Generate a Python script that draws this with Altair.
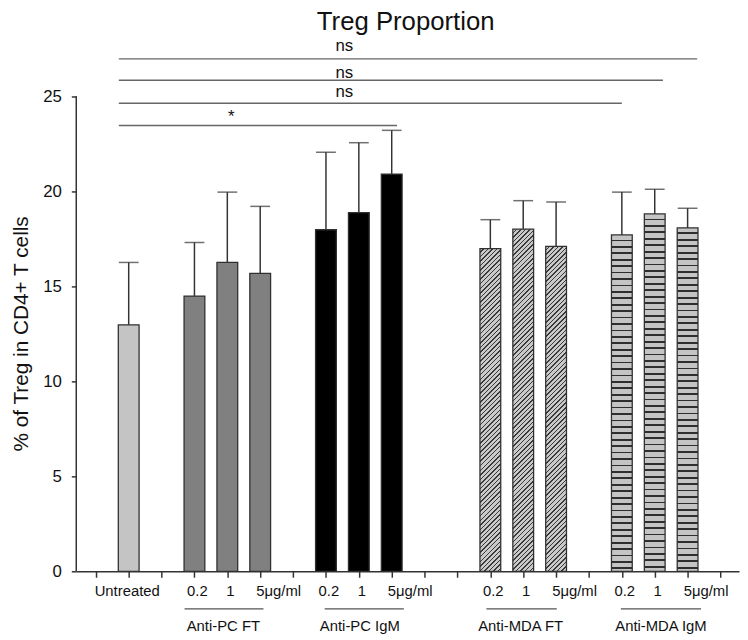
import altair as alt
import pandas as pd

# ---------------- data ----------------
groups = ["Untreated",
          "Anti-PC FT", "Anti-PC FT", "Anti-PC FT",
          "Anti-PC IgM", "Anti-PC IgM", "Anti-PC IgM",
          "Anti-MDA FT", "Anti-MDA FT", "Anti-MDA FT",
          "Anti-MDA IgM", "Anti-MDA IgM", "Anti-MDA IgM"]
doses = ["Untreated", "0.2", "1", "5μg/ml", "0.2", "1", "5μg/ml",
         "0.2", "1", "5μg/ml", "0.2", "1", "5μg/ml"]
slots = [1, 3, 4, 5, 7, 8, 9, 12, 13, 14, 16, 17, 18]
means = [12.97, 14.48, 16.25, 15.68, 17.97, 18.87, 20.90,
         16.98, 18.00, 17.10, 17.70, 18.80, 18.07]
err_tops = [16.25, 17.30, 19.95, 19.20, 22.05, 22.55, 23.20,
            18.50, 19.50, 19.43, 19.95, 20.10, 19.10]

group_names = ["Anti-PC FT", "Anti-PC IgM", "Anti-MDA FT", "Anti-MDA IgM"]
group_centers = [3.88, 8.03, 12.92, 17.19]
group_line_start = [2.70, 6.96, 11.88, 15.97]
group_line_end = [5.10, 9.37, 14.02, 18.41]

sig_labels = ["ns", "ns", "ns", "*"]
sig_start = [0.70, 0.70, 0.70, 0.70]
sig_end = [18.29, 17.25, 16.00, 9.16]
sig_line_y = [26.96, 25.83, 24.63, 23.45]
sig_text_y = [27.38, 25.97, 24.93, 23.63]
sig_text_x = [7.56, 7.56, 7.56, 4.12]

y_ticks = [0, 5, 10, 15, 20, 25]
x_slots = list(range(20))

# ---------------- layout constants ----------------
FONT = "Liberation Sans"
W, H = 670, 538
YMAX = 28
X0 = -0.4446
X1 = X0 + W / 33.74
BAR_W = 21
PX_PER_Y = H / YMAX

bars = pd.DataFrame({"group": groups, "dose": doses, "slot": slots,
                     "mean": means, "top": err_tops})
grp = pd.DataFrame({"name": group_names, "center": group_centers,
                    "start": group_line_start, "end": group_line_end})
sig = pd.DataFrame({"label": sig_labels, "start": sig_start, "end": sig_end,
                    "ly": sig_line_y, "ty": sig_text_y, "tx": sig_text_x})

xscale = alt.Scale(domain=[X0, X1], nice=False, zero=False)
yscale = alt.Scale(domain=[0, YMAX], nice=False)
xaxis = alt.Axis(values=x_slots, labels=False, tickSize=6, tickWidth=1.5,
                 tickColor="#333333", domainColor="#333333", domainWidth=1.5,
                 grid=False, title=None)
yaxis = alt.Axis(values=y_ticks, domain=False, tickSize=5, tickWidth=1.5,
                 tickColor="#333333", labelFont=FONT, labelFontSize=17,
                 labelColor="#111111", labelPadding=10, grid=False, title=None)


def X(field):
    return alt.X(field, type="quantitative", scale=xscale, axis=xaxis)


def Y(field):
    return alt.Y(field, type="quantitative", scale=yscale, axis=yaxis)


def diag_gradient(h_px, w=BAR_W, p=4.6, light="#c9c9c9", dark="#3a3a3a", frac=0.32):
    L = w + h_px
    n = int(L / p) + 1
    stops = []
    for k in range(n):
        a = min(k * p / L, 1.0)
        b = min((k * p + p * (1 - frac)) / L, 1.0)
        c = min((k + 1) * p / L, 1.0)
        stops += [alt.GradientStop(color=light, offset=a),
                  alt.GradientStop(color=light, offset=b),
                  alt.GradientStop(color=dark, offset=b),
                  alt.GradientStop(color=dark, offset=c)]
    s = L / (w * w + h_px * h_px)
    return alt.LinearGradient(gradient="linear", stops=stops,
                              x1=0, y1=0, x2=s * w, y2=s * h_px)


def horiz_gradient(h_px, p=6.5, light="#c4c4c4", dark="#2e2e2e", frac=0.28):
    n = int(h_px / p) + 1
    stops = []
    for k in range(n):
        a = min(k * p / h_px, 1.0)
        b = min((k * p + p * (1 - frac)) / h_px, 1.0)
        c = min((k + 1) * p / h_px, 1.0)
        stops += [alt.GradientStop(color=light, offset=a),
                  alt.GradientStop(color=light, offset=b),
                  alt.GradientStop(color=dark, offset=b),
                  alt.GradientStop(color=dark, offset=c)]
    return alt.LinearGradient(gradient="linear", stops=stops,
                              x1=0, y1=0, x2=0, y2=1)


base = alt.Chart(bars)

solid_colors = alt.Scale(domain=["Untreated", "Anti-PC FT", "Anti-PC IgM"],
                         range=["#c4c4c4", "#808080", "#000000"])
solid = base.transform_filter(
    alt.FieldOneOfPredicate(field="group", oneOf=["Untreated", "Anti-PC FT", "Anti-PC IgM"])
).mark_bar(size=BAR_W, stroke="#303030", strokeWidth=1.3).encode(
    x=X("slot"), y=Y("mean"),
    fill=alt.Fill("group:N", scale=solid_colors, legend=None))

layers = [solid]
for g, s, m in zip(groups, slots, means):
    if g == "Anti-MDA FT":
        grad = diag_gradient(m * PX_PER_Y)
    elif g == "Anti-MDA IgM":
        grad = horiz_gradient(m * PX_PER_Y)
    else:
        continue
    layers.append(
        base.transform_filter(alt.datum.slot == s)
        .mark_bar(size=BAR_W, stroke="#303030", strokeWidth=1.3, fill=grad)
        .encode(x=X("slot"), y=Y("mean")))

err_rule = base.mark_rule(color="#333333", strokeWidth=1.5).encode(
    x=X("slot"), y=Y("mean"), y2="top")
err_cap = base.mark_tick(orient="horizontal", size=20, thickness=1.5,
                         color="#333333").encode(x=X("slot"), y=Y("top"))

y_line = alt.Chart(pd.DataFrame({"a": [0], "b": [y_ticks[-1]]})).mark_rule(
    color="#333333", strokeWidth=1.5).encode(
    x=alt.value(0), y=Y("a"), y2="b")

dose_untr = base.transform_filter(alt.datum.dose == "Untreated").mark_text(
    font=FONT, fontSize=15, color="#111111", align="center", baseline="alphabetic",
    dx=-1.5).encode(x=X("slot"), y=alt.value(563), text="dose:N")
dose_center = base.transform_filter(
    (alt.datum.dose != "5μg/ml") & (alt.datum.dose != "Untreated")).mark_text(
    font=FONT, fontSize=15, color="#111111", align="center", baseline="alphabetic",
    dx=3).encode(x=X("slot"), y=alt.value(563), text="dose:N")
dose_left = base.transform_filter(alt.datum.dose == "5μg/ml").mark_text(
    font=FONT, fontSize=15, color="#111111", align="left", baseline="alphabetic",
    dx=-4).encode(x=X("slot"), y=alt.value(563), text="dose:N")

grp_line = alt.Chart(grp).mark_rule(color="#555555", strokeWidth=1.2).encode(
    x=X("start"), x2="end", y=alt.value(576))
grp_text = alt.Chart(grp).mark_text(
    font=FONT, fontSize=15, color="#111111", align="center",
    baseline="alphabetic").encode(x=X("center"), y=alt.value(598), text="name:N")

sig_line = alt.Chart(sig).mark_rule(color="#666666", strokeWidth=1.5).encode(
    x=X("start"), x2="end", y=Y("ly"))
sig_text = alt.Chart(sig).mark_text(
    font=FONT, fontSize=17, color="#111111", align="center",
    baseline="alphabetic").encode(x=X("tx"), y=Y("ty"), text="label:N")

title = alt.Chart(pd.DataFrame({"t": ["Treg Proportion"]})).mark_text(
    font=FONT, fontSize=26, color="#111111", align="center",
    baseline="alphabetic").encode(x=alt.value(333), y=alt.value(-9), text="t:N")
ytitle = alt.Chart(pd.DataFrame({"t": ["% of Treg in CD4+ T cells"]})).mark_text(
    font=FONT, fontSize=21, color="#111111", align="center", angle=270,
    baseline="alphabetic").encode(x=alt.value(-49), y=alt.value(298), text="t:N")

chart = alt.layer(
    *layers, err_rule, err_cap, y_line, dose_untr, dose_center, dose_left,
    grp_line, grp_text, sig_line, sig_text, title, ytitle
).properties(
    width=W, height=H,
    padding={"left": 69, "top": 28, "right": 1, "bottom": 66},
    autosize=alt.AutoSizeParams(type="none"),
    background="white",
).configure_view(stroke=None)

chart.save("out.html", embed_options={"renderer": "svg", "actions": False})
